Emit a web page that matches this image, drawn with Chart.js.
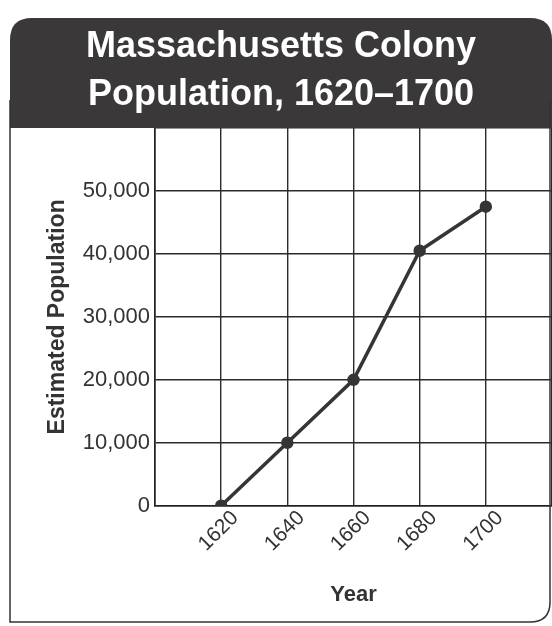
<!DOCTYPE html>
<html>
<head>
<meta charset="utf-8">
<script src="https://cdn.jsdelivr.net/npm/chart.js@4"></script>
<style>
html,body{margin:0;padding:0;background:#fff;}
#wrap{width:552px;height:626px;position:relative;}
</style>
</head>
<body>
<div id="wrap"><canvas id="c" width="552" height="626"></canvas></div>
<script>
let years=[1620,1640,1660,1680,1700];
let population=[0,10000,20000,40500,47500];
let yTicks=[0,10000,20000,30000,40000,50000];
let titleLines=["Massachusetts Colony","Population, 1620\u20131700"];

let sans="'Liberation Sans',Arial,sans-serif";

function roundTop(ctx,x,y,w,h,r){
    ctx.beginPath();
    ctx.moveTo(x,y+h);
    ctx.lineTo(x,y+r);
    ctx.quadraticCurveTo(x,y,x+r,y);
    ctx.lineTo(x+w-r,y);
    ctx.quadraticCurveTo(x+w,y,x+w,y+r);
    ctx.lineTo(x+w,y+h);
    ctx.closePath();
}

// white page, dark rounded header and outer frame
let frame={
    id:'frame',
    beforeDraw(chart){
        let ctx=chart.ctx;
        ctx.save();
        ctx.fillStyle='#fff';
        ctx.fillRect(0,0,chart.width,chart.height);
        ctx.restore();
    },
    afterDraw(chart){
        let ctx=chart.ctx;
        ctx.save();
        ctx.fillStyle='#3a3838';
        roundTop(ctx,10,18,542,110,22);
        ctx.fill();
        ctx.fillStyle='#fff';
        ctx.font="bold 36px "+sans;
        ctx.textAlign='center';
        ctx.textBaseline='middle';
        ctx.fillText(titleLines[0],281,47);
        ctx.fillText(titleLines[1],281,95);
        ctx.strokeStyle='#333';
        ctx.lineWidth=1.5;
        ctx.beginPath();
        ctx.moveTo(10,100);
        ctx.lineTo(10,622);
        ctx.lineTo(530,622);
        ctx.quadraticCurveTo(550,622,550,602);
        ctx.lineTo(550,100);
        ctx.stroke();
        ctx.restore();
    }
};

let ctx=document.getElementById('c').getContext('2d');
let chart=new Chart(ctx,{
    type:'line',
    data:{datasets:[{
        data:years.map((y,i)=>({x:y,y:population[i]})),
        borderColor:'#363434',
        backgroundColor:'#363434',
        borderWidth:3.5,
        pointRadius:4.5,
        pointHoverRadius:4.5,
        tension:0
    }]},
    options:{
        responsive:false,
        animation:false,
        layout:{autoPadding:false,padding:{left:44,right:0,top:128,bottom:18}},
        plugins:{legend:{display:false},tooltip:{enabled:false},title:{display:false}},
        scales:{
            x:{
                type:'linear',min:1600,max:1720,
                grid:{color:'#2a2a2a',lineWidth:1.4,drawTicks:false},
                border:{color:'#222',width:1.6},
                afterFit(s){s.paddingLeft=0;s.paddingRight=0;},
                ticks:{stepSize:20,maxRotation:45,minRotation:45,autoSkip:false,padding:0,labelOffset:14,color:'#333',
                    font:{family:sans,size:21},
                    callback:v=>years.includes(v)?String(v):''},
                title:{display:true,text:'Year',color:'#333',font:{family:sans,size:22,weight:'bold'},padding:{top:25,bottom:0}}
            },
            y:{
                min:0,max:60000,
                grid:{color:'#2a2a2a',lineWidth:1.4,drawTicks:false},
                border:{color:'#222',width:1.6},
                afterBuildTicks(s){s.ticks=yTicks.concat([60000]).map(v=>({value:v}));},
                afterFit(s){s.width=111;},
                ticks:{padding:5,color:'#333',font:{family:sans,size:22},
                    callback:v=>yTicks.includes(v)?v.toLocaleString('en-US'):''},
                title:{display:true,text:'Estimated Population',color:'#333',font:{family:sans,size:23,weight:'bold'},padding:{top:0,bottom:0}}
            }
        }
    },
    plugins:[frame]
});
</script>
</body>
</html>
